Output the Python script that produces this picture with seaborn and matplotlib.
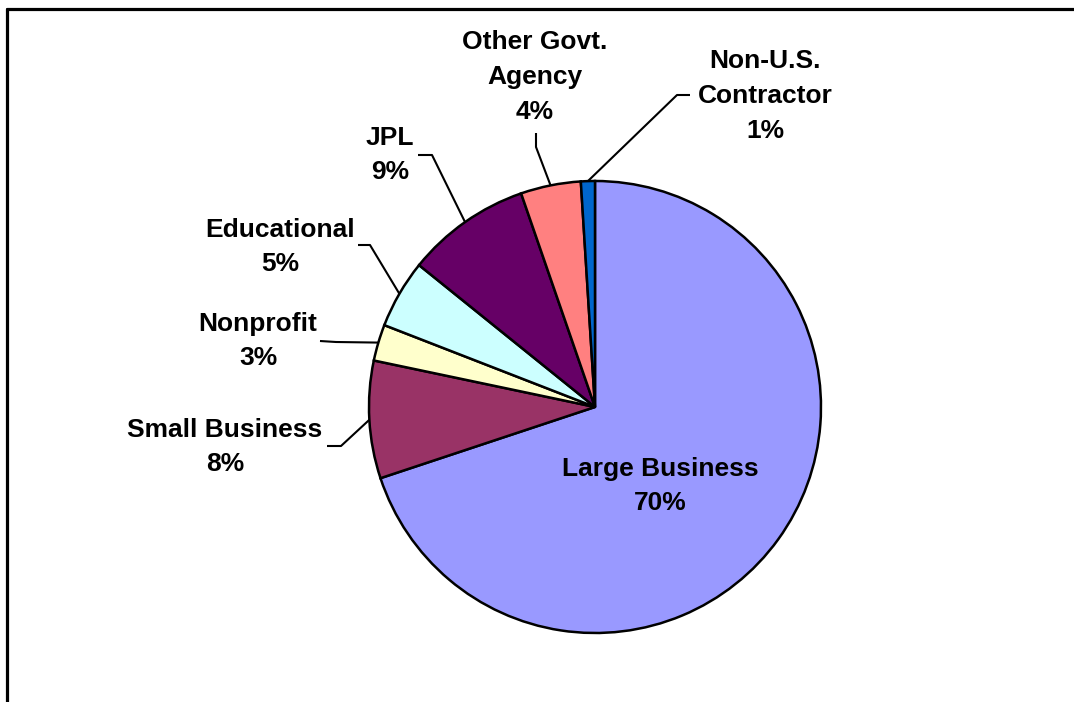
import numpy as np
import matplotlib
matplotlib.use("Agg")
import matplotlib.pyplot as plt
import seaborn as sns

# ---- data ----
categories = ["Large Business", "Small Business", "Nonprofit", "Educational",
              "JPL", "Other Govt.\nAgency", "Non-U.S.\nContractor"]
shares = [69.9, 8.4, 2.6, 4.9, 8.9, 4.3, 1.0]
colors = ["#9999FF", "#993366", "#FFFFCC", "#CCFFFF", "#660066", "#FF8080", "#0066CC"]

sns.set_theme(style="white")
plt.rcParams['font.family'] = ['Liberation Sans', 'DejaVu Sans']

W, H = 1074, 702
fig = plt.figure(figsize=(W / 100, H / 100), dpi=100)
ax = fig.add_axes([0, 0, 1, 1])

cx, cy, R = 595, H - 407, 226
wedges, _ = ax.pie(shares, colors=colors, startangle=90, counterclock=False,
                   center=(cx, cy), radius=R, frame=True,
                   wedgeprops=dict(edgecolor='black', linewidth=1.8))
ax.set_xlim(0, W)
ax.set_ylim(0, H)
ax.set_aspect('equal')
ax.axis('off')

fs = 19
pct = [f"{round(v):.0f}%" for v in shares]

# label layout (pixel positions): text center, elbow start, elbow end
layout = {
    0: dict(text=(660, 486)),
    1: dict(text=(225, 447), p0=(327, 446), p1=(341, 446)),
    2: dict(text=(258, 341), p0=(320, 341), p1=(336, 342)),
    3: dict(text=(280, 247), p0=(358, 245), p1=(370, 245)),
    4: dict(text=(390, 155), p0=(418, 155), p1=(432, 155)),
    5: dict(text=(535, 77), p0=(536, 133), p1=(536, 147)),
    6: dict(text=(765, 96), p0=(690, 95), p1=(677, 95)),
}

for i, w in enumerate(wedges):
    lay = layout[i]
    tx, ty = lay['text']
    ax.text(tx, H - ty, f"{categories[i]}\n{pct[i]}", ha='center', va='center',
            fontsize=fs, fontweight='bold', color='black', linespacing=1.56)
    if 'p0' in lay:
        mid = np.deg2rad((w.theta1 + w.theta2) / 2)
        ex, ey = cx + R * np.cos(mid), cy + R * np.sin(mid)
        (x0, y0), (x1, y1) = lay['p0'], lay['p1']
        ax.plot([x0, x1, ex], [H - y0, H - y1, ey], color='black', lw=1.5,
                solid_capstyle='butt')

# partial frame (top and left border)
ax.plot([7, W], [H - 9, H - 9], color='black', lw=2.3, clip_on=False)
ax.plot([7, 7], [H - 9, 0], color='black', lw=2.3, clip_on=False)

fig.savefig("out.png", dpi=100, facecolor='white')
